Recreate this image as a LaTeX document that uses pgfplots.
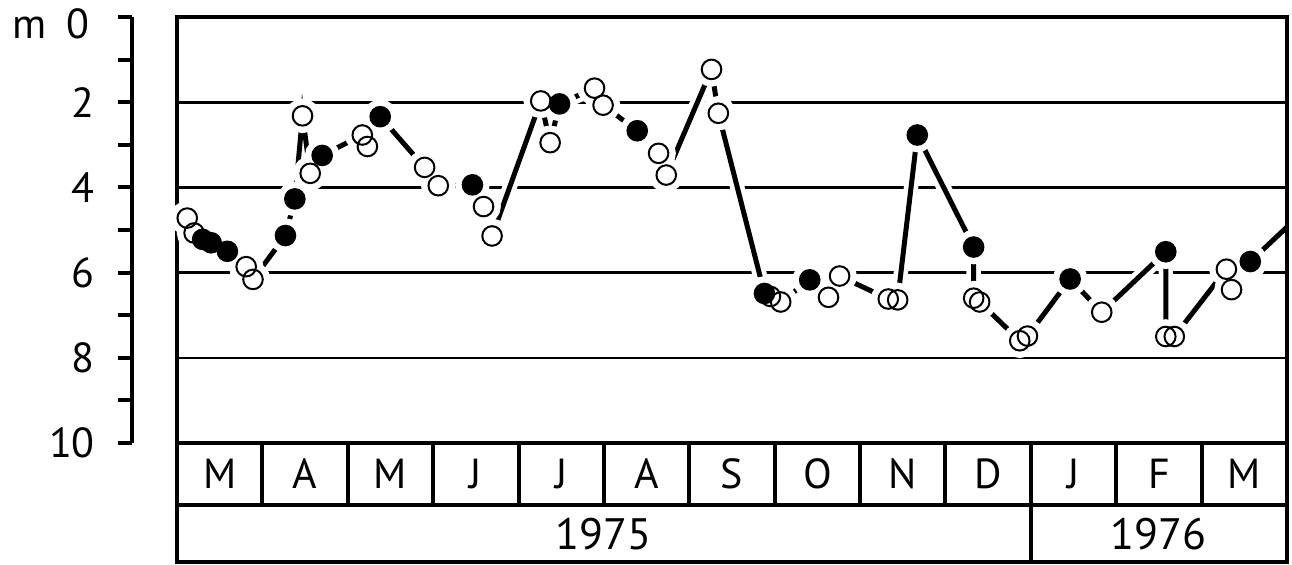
\documentclass[border=0pt]{standalone}
\usepackage{pgfplots}
\pgfplotsset{compat=1.18}
\usepackage{pgfplotstable}
\usepackage{fontspec}
\setmainfont{PT Sans}

% x = months since 1 March 1975, y = depth in m
\pgfplotstableread{
x y t
0.12 4.72 o
0.20 5.07 o
0.30 5.22 f
0.40 5.30 f
0.59 5.50 f
0.81 5.86 o
0.89 6.16 o
1.27 5.13 f
1.38 4.27 f
1.47 2.32 o
1.56 3.67 o
1.70 3.25 f
2.17 2.77 o
2.23 3.04 o
2.38 2.34 f
2.90 3.53 o
3.06 3.96 o
3.46 3.94 f
3.59 4.45 o
3.69 5.14 o
4.26 1.97 o
4.37 2.95 o
4.48 2.04 f
4.89 1.67 o
4.99 2.07 o
5.39 2.67 f
5.64 3.20 o
5.73 3.71 o
6.26 1.23 o
6.34 2.26 o
6.88 6.49 f
6.95 6.56 o
7.07 6.69 o
7.41 6.17 f
7.63 6.58 o
7.76 6.08 o
8.33 6.62 o
8.44 6.64 o
8.67 2.77 f
9.33 5.40 f
9.33 6.60 o
9.40 6.69 o
9.87 7.60 o
9.96 7.49 o
10.46 6.15 f
10.83 6.93 o
11.58 5.51 f
11.58 7.50 o
11.68 7.50 o
12.29 5.92 o
12.35 6.40 o
12.57 5.74 f
}\depth

\newcommand{\lbl}{\fontsize{10.5}{12}\selectfont}
\newcommand{\yr}{\fontsize{11}{13}\selectfont}

\begin{document}
\begin{tikzpicture}
\path[use as bounding box] (0,0) rectangle (323pt,-141.25pt);

% left depth scale
\begin{axis}[
  at={(33pt,-4.25pt)}, anchor=north west,
  scale only axis, width=2pt, height=106.5pt,
  xmin=0, xmax=1, ymin=0, ymax=10, y dir=reverse,
  axis x line=none, axis y line*=left,
  axis line style={-, line width=1.1pt},
  ytick={0,...,10}, yticklabels={,,2,,4,,6,,8,,10},
  tick align=outside, major tick length=3.6pt,
  tick style={line width=1pt, black},
  yticklabel style={font=\lbl, anchor=east, inner sep=0pt, xshift=-5.5pt},
]
\end{axis}
\node[anchor=base west, inner sep=0pt, font=\lbl] at (3pt,-9.75pt) {m};
\node[anchor=base east, inner sep=0pt, font=\lbl] at (22.5pt,-9.75pt) {0};

\begin{axis}[
  at={(44.25pt,-4.25pt)}, anchor=north west,
  scale only axis, width=277.5pt, height=106.5pt,
  xmin=0, xmax=13, ymin=0, ymax=10, y dir=reverse,
  clip=false,
  xtick=\empty, ytick={2,4,6,8}, yticklabels={,,,},
  ytick style={draw=none}, major tick length=0pt,
  ymajorgrids, major grid style={line width=0.65pt, black},
  axis line style={line width=1pt},
]
% white halos behind the line
\addplot[white, line width=3.6pt] coordinates {(0,4.95) (0.12,4.72)};
\addplot[white, line width=3.6pt] table[x=x,y=y]{\depth};
\addplot[white, line width=3.6pt] coordinates {(12.57,5.74) (13,4.93)};
% the line
\addplot[black, line width=1.25pt] coordinates {(0,4.95) (0.12,4.72)};
\addplot[black, line width=1.25pt] table[x=x,y=y]{\depth};
\addplot[black, line width=1.25pt] coordinates {(12.57,5.74) (13,4.93)};
% white halos round the circles
\addplot[only marks, mark=*, mark size=2.6pt, mark options={draw=white, fill=white, line width=3.4pt}] table[x=x,y=y]{\depth};
% circles
\addplot[scatter, only marks, mark size=2.45pt, scatter src=explicit symbolic,
  scatter/classes={o={mark=o, draw=black, line width=0.5pt}, f={mark=*, draw=black, fill=black, line width=0.5pt}}]
  table[x=x,y=y,meta=t]{\depth};
% frame redrawn on top
\draw[line width=1pt] (axis cs:0,0) rectangle (axis cs:13,10);
% month and year rows
\draw[line width=1pt] (axis cs:0,10) rectangle (axis cs:13,12.8);
\draw[line width=1pt] (axis cs:0,11.455) -- (axis cs:13,11.455);
\pgfplotsinvokeforeach{1,...,12}{\draw[line width=1pt] (axis cs:#1,10) -- (axis cs:#1,11.455);}
\draw[line width=1pt] (axis cs:10,11.455) -- (axis cs:10,12.8);
\node[font=\lbl] at (axis cs:0.5,10.728) {M};
\node[font=\lbl] at (axis cs:1.5,10.728) {A};
\node[font=\lbl] at (axis cs:2.5,10.728) {M};
\node[font=\lbl] at (axis cs:3.5,10.728) {J};
\node[font=\lbl] at (axis cs:4.5,10.728) {J};
\node[font=\lbl] at (axis cs:5.5,10.728) {A};
\node[font=\lbl] at (axis cs:6.5,10.728) {S};
\node[font=\lbl] at (axis cs:7.5,10.728) {O};
\node[font=\lbl] at (axis cs:8.5,10.728) {N};
\node[font=\lbl] at (axis cs:9.5,10.728) {D};
\node[font=\lbl] at (axis cs:10.5,10.728) {J};
\node[font=\lbl] at (axis cs:11.5,10.728) {F};
\node[font=\lbl] at (axis cs:12.5,10.728) {M};
\node[font=\yr] at (axis cs:5,12.148) {1975};
\node[font=\yr] at (axis cs:11.5,12.148) {1976};
\end{axis}
\end{tikzpicture}
\end{document}
